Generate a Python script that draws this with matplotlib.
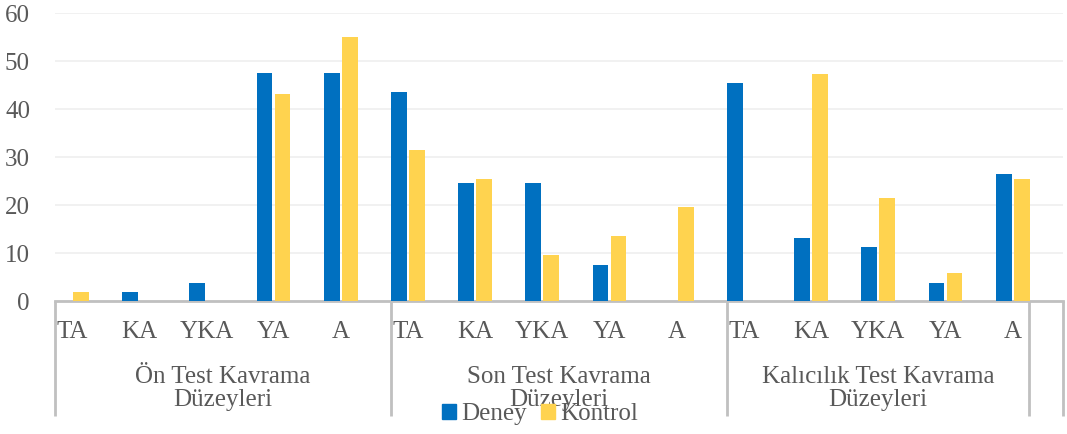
import matplotlib.pyplot as plt
import matplotlib.transforms as mtransforms
from matplotlib.patches import Patch
import numpy as np

#DATA
levels = ["TA", "KA", "YKA", "YA", "A"]
groups = ["Ön Test Kavrama\nDüzeyleri", "Son Test Kavrama\nDüzeyleri", "Kalıcılık Test Kavrama\nDüzeyleri"]
deney = [0, 1.8, 3.7, 47.4, 47.4,
         43.5, 24.5, 24.5, 7.4, 0,
         45.4, 13.1, 11.3, 3.7, 26.5]
kontrol = [1.9, 0, 0, 43.2, 55.1,
           31.4, 25.4, 9.6, 13.6, 19.5,
           0, 47.3, 21.5, 5.8, 25.4]

BLUE = "#0070c0"
YELLOW = "#ffd34f"
GRAY = "#595959"
LINE = "#c0c0c0"

plt.rcParams["font.family"] = ["Liberation Serif", "DejaVu Serif"]

fig = plt.figure(figsize=(10.67, 4.34), dpi=100)
W, H = 1067, 434
ax = fig.add_axes([55 / W, 1 - 301 / H, (1063 - 55) / W, 288 / H])

x = np.arange(len(deney))
w = 0.235
ax.bar(x - 0.134, deney, w, color=BLUE, zorder=3)
ax.bar(x + 0.134, kontrol, w, color=YELLOW, zorder=3)

ax.set_xlim(-0.253, 14.75)
ax.set_ylim(0, 60)
ax.set_yticks(range(0, 61, 10))
ax.tick_params(axis="y", length=0, pad=18, labelsize=18, labelcolor=GRAY)
ax.set_xticks([])
ax.grid(axis="y", color="#efefef", linewidth=1.2, zorder=0)
for s in ["top", "right", "left"]:
    ax.spines[s].set_visible(False)
ax.spines["bottom"].set_color(LINE)
ax.spines["bottom"].set_linewidth(2)

trans = mtransforms.blended_transform_factory(ax.transData, ax.transAxes)

#category labels
for i in x:
    ax.text(i, -0.108, levels[i % 5], transform=trans, ha="center", va="center",
            fontsize=18, color=GRAY)

#separators
for sx in [-0.253, 4.747, 9.747, 14.24, 14.75]:
    ax.plot([sx, sx], [0, -0.399], transform=trans, color=LINE, linewidth=2,
            clip_on=False, solid_capstyle="butt")

#group labels
for cx, g in zip([2.25, 7.25, 12.0], groups):
    ax.text(cx, -0.305, g, transform=trans, ha="center", va="center",
            fontsize=18, color=GRAY, linespacing=1.05)

handles = [Patch(color=BLUE, label="Deney"), Patch(color=YELLOW, label="Kontrol")]
fig.legend(handles=handles, loc="center", bbox_to_anchor=(540 / W, 1 - 414 / H),
           ncol=2, frameon=False, fontsize=18, labelcolor=GRAY,
           handlelength=0.55, handleheight=0.55, handletextpad=0.2,
           columnspacing=0.6, borderpad=0)

fig.savefig("out.png", dpi=100)
